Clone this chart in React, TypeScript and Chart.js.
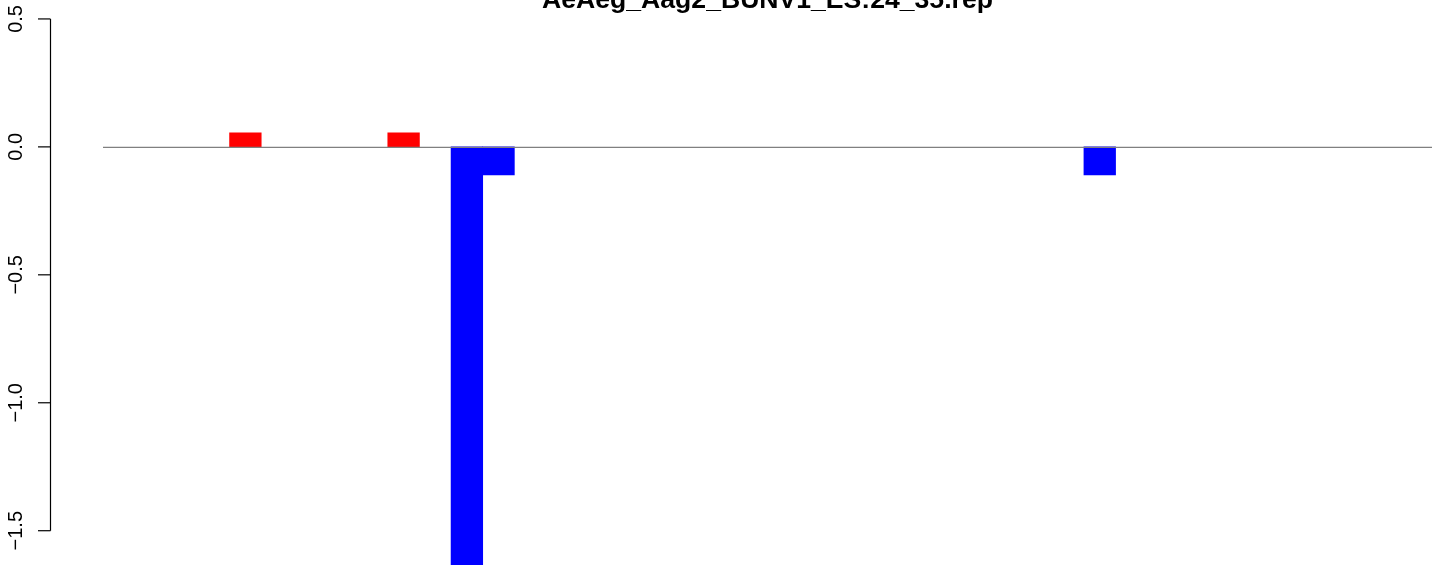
import React, { useEffect, useRef } from "react";
import { Chart, registerables } from "chart.js";

Chart.register(...registerables);

const chartTitle = "AeAeg_Aag2_BUNV1_ES:24_35.rep";

const positions = [
  "1", "2", "3", "4", "5", "6", "7", "8", "9", "10",
  "11", "12", "13", "14", "15", "16", "17", "18", "19", "20",
  "21", "22", "23", "24", "25", "26", "27", "28", "29", "30",
  "31", "32", "33", "34", "35", "36", "37", "38", "39", "40",
  "41", "42",
];

const senseValues: (number | null)[] = [
  null, null, null, null, 0.055, null, null, null, null, 0.055,
  null, null, null, null, null, null, null, null, null, null,
  null, null, null, null, null, null, null, null, null, null,
  null, null, null, null, null, null, null, null, null, null,
  null, null,
];

const antisenseValues: (number | null)[] = [
  null, null, null, null, null, null, null, null, null, null,
  null, -1.65, -0.11, null, null, null, null, null, null, null,
  null, null, null, null, null, null, null, null, null, null,
  null, -0.11, null, null, null, null, null, null, null, null,
  null, null,
];

const yTicks = [0.5, 0.0, -0.5, -1.0, -1.5];
const yTickLabels = ["0.5", "0.0", "\u22120.5", "\u22121.0", "\u22121.5"];

const Y_MAX = 0.574;
const Y_MIN = -1.634;

const rPlotPlugin = {
  id: "rPlot",
  afterDatasetsDraw(chart: any) {
    const ctx = chart.ctx;
    const area = chart.chartArea;
    const y = chart.scales.y;
    ctx.save();
    ctx.strokeStyle = "#808080";
    ctx.lineWidth = 1.3;
    ctx.beginPath();
    const y0 = y.getPixelForValue(0) + 0.5;
    ctx.moveTo(area.left, y0);
    ctx.lineTo(area.right, y0);
    ctx.stroke();
    ctx.restore();
  },
  afterDraw(chart: any) {
    const ctx = chart.ctx;
    const area = chart.chartArea;
    const y = chart.scales.y;
    ctx.save();
    const axisX = 50.5;
    ctx.strokeStyle = "#000";
    ctx.lineWidth = 1.2;
    ctx.beginPath();
    ctx.moveTo(axisX, y.getPixelForValue(yTicks[0]));
    ctx.lineTo(axisX, y.getPixelForValue(yTicks[yTicks.length - 1]));
    ctx.stroke();
    ctx.font = '20px "Liberation Sans", Arial, sans-serif';
    ctx.fillStyle = "#000";
    ctx.textAlign = "center";
    ctx.textBaseline = "alphabetic";
    yTicks.forEach((v, i) => {
      const py = y.getPixelForValue(v);
      ctx.beginPath();
      ctx.moveTo(38, py);
      ctx.lineTo(axisX, py);
      ctx.stroke();
      ctx.save();
      ctx.translate(22, py);
      ctx.rotate(-Math.PI / 2);
      ctx.fillText(yTickLabels[i], 0, 0);
      ctx.restore();
    });
    ctx.font = 'bold 26.6px "Liberation Sans", Arial, sans-serif';
    ctx.textAlign = "center";
    ctx.fillText(chartTitle, (area.left + area.right) / 2, 8);
    ctx.restore();
  },
};

export default function App() {
  const canvasRef = useRef<HTMLCanvasElement | null>(null);

  useEffect(() => {
    if (!canvasRef.current) return;
    const chart = new Chart(canvasRef.current, {
      type: "bar",
      data: {
        labels: positions,
        datasets: [
          {
            label: "sense",
            data: senseValues,
            backgroundColor: "#ff0000",
            borderWidth: 0,
            grouped: false,
            categoryPercentage: 1,
            barPercentage: 1,
          },
          {
            label: "antisense",
            data: antisenseValues,
            backgroundColor: "#0000ff",
            borderWidth: 0,
            grouped: false,
            categoryPercentage: 1,
            barPercentage: 1,
          },
        ],
      },
      options: {
        responsive: false,
        animation: false,
        devicePixelRatio: 1,
        layout: { padding: { left: 103, right: 12, top: 0, bottom: 0 } },
        plugins: {
          legend: { display: false },
          tooltip: { enabled: false },
          title: { display: false },
        },
        scales: {
          x: { display: false, offset: true },
          y: { display: false, min: Y_MIN, max: Y_MAX },
        },
      },
      plugins: [rPlotPlugin],
    });
    return () => chart.destroy();
  }, []);

  return (
    <div style={{ position: "fixed", left: 0, top: 0, width: 1444, height: 565, background: "#fff" }}>
      <canvas ref={canvasRef} width={1444} height={565} />
    </div>
  );
}
